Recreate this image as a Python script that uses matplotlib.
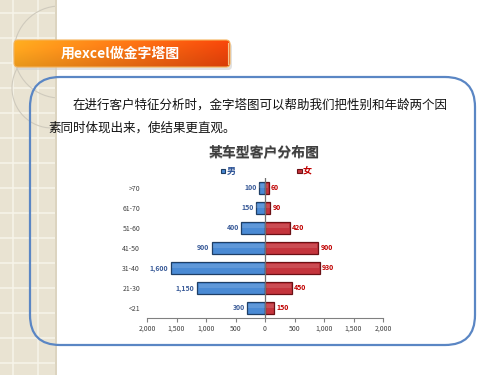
import numpy as np
import matplotlib
matplotlib.use('Agg')
import matplotlib.pyplot as plt
from matplotlib.patches import FancyBboxPatch, Rectangle, Circle
from matplotlib.ticker import FuncFormatter

plt.rcParams['font.family'] = ['Noto Sans CJK SC', 'DejaVu Sans']

# data
ages = ['>70', '61-70', '51-60', '41-50', '31-40', '21-30', '<21']
male = [100, 150, 400, 900, 1600, 1150, 300]
female = [60, 90, 420, 900, 930, 450, 150]
xticks = [-2000, -1500, -1000, -500, 0, 500, 1000, 1500, 2000]

banner_text = '用excel做金字塔图'
para1 = '在进行客户特征分析时，金字塔图可以帮助我们把性别和年龄两个因'
para2 = '素同时体现出来，使结果更直观。'
chart_title = '某车型客户分布图'

fig = plt.figure(figsize=(5, 3.75), dpi=100)
fig.patch.set_facecolor('white')

# background layer in pixel coordinates
bg = fig.add_axes([0, 0, 1, 1])
bg.set_xlim(0, 500)
bg.set_ylim(375, 0)
bg.axis('off')

# beige strip on the left
strip = Rectangle((0, 0), 55, 375, fc='#e9e3d2', ec='none', zorder=0)
bg.add_patch(strip)
for gx in [13, 38]:
    bg.plot([gx, gx], [0, 375], color='#f7f4ea', lw=1.1, zorder=1)
for gy in np.arange(12.5, 375, 25):
    bg.plot([0, 55], [gy, gy], color='#f7f4ea', lw=1.1, zorder=1)
bg.plot([55.5, 55.5], [0, 375], color='#d5ccb4', lw=1.2, zorder=1)
for cx, cy, r in [(60, 52, 46), (52, 88, 40)]:
    c = Circle((cx, cy), r, fc='none', ec='#cfcabd', lw=0.8, zorder=1)
    bg.add_patch(c)
    c.set_clip_path(strip)

# orange banner with shadow
bg.add_patch(FancyBboxPatch((16, 43), 216, 27, boxstyle='round,pad=0,rounding_size=4',
                            fc='#cfcfcf', ec='none', alpha=0.6, zorder=2))
banner = FancyBboxPatch((14, 40), 216, 27, boxstyle='round,pad=0,rounding_size=4',
                        fc='none', ec='#f5b35a', lw=0.8, zorder=4)
bg.add_patch(banner)
w, h = 200, 30
left = np.array([249, 163, 30]) / 255
right = np.array([232, 66, 10]) / 255
t = np.linspace(0, 1, w)[None, :, None]
grad = left * (1 - t) + right * t
shade = np.linspace(1.08, 0.93, h)[:, None, None]
img = np.clip(grad * shade, 0, 1)
im = bg.imshow(img, extent=(14, 230, 67, 40), aspect='auto', zorder=3)
im.set_clip_path(banner)
bg.plot([227.5, 227.5], [43, 64], color='#f7c48a', lw=0.8, zorder=4)
bg.text(120, 53.5, banner_text, color='white', fontsize=10, fontweight='bold',
        ha='center', va='center', zorder=5)

# rounded content box
bg.add_patch(FancyBboxPatch((30, 77), 445, 268, boxstyle='round,pad=0,rounding_size=30',
                            fc='none', ec='#5a86c4', lw=1.6, zorder=2))

bg.text(73, 105, para1, fontsize=9, fontweight='medium', color='#111111',
        ha='left', va='center', zorder=5)
bg.text(48, 128, para2, fontsize=9, fontweight='medium', color='#111111',
        ha='left', va='center', zorder=5)

bg.text(264.5, 153.5, chart_title, fontsize=10, fontweight='black', color='#b0b0b0',
        ha='center', va='center', zorder=5)
bg.text(264, 153, chart_title, fontsize=10, fontweight='black', color='#3f3f3f',
        ha='center', va='center', zorder=5)

# legend
bg.add_patch(Rectangle((220.5, 168.5), 4.5, 4.5, fc='#4a8ad4', ec='#1f3f66', lw=0.8, zorder=5))
bg.text(226.5, 171, '男', fontsize=6.5, fontweight='bold', color='#2f5597',
        ha='left', va='center', zorder=5)
bg.add_patch(Rectangle((297, 168.5), 4.5, 4.5, fc='#c4343c', ec='#6b1015', lw=0.8, zorder=5))
bg.text(303, 171, '女', fontsize=6.5, fontweight='bold', color='#c00000',
        ha='left', va='center', zorder=5)

# pyramid chart
ax = fig.add_axes([147 / 500, 1 - 318 / 375, 236 / 500, 140 / 375])
ax.patch.set_alpha(0)
y = np.arange(len(ages))
m = -np.array(male)
f = np.array(female)

ax.barh(y, m, height=0.6, color='#4a8ad4', edgecolor='#1f3f66', lw=0.9, zorder=2)
ax.barh(y, f, height=0.6, color='#c4343c', edgecolor='#6b1015', lw=0.9, zorder=2)
# light bevel
ax.barh(y - 0.12, m * 0.98, height=0.2, color='white', alpha=0.12, lw=0, zorder=3)
ax.barh(y - 0.12, f * 0.98, height=0.2, color='white', alpha=0.12, lw=0, zorder=3)

for yi, v in zip(y, male):
    ax.text(-v - 45, yi, f'{v:,}', ha='right', va='center', fontsize=5,
            fontweight='bold', color='#3b5c99')
for yi, v in zip(y, female):
    ax.text(v + 40, yi, f'{v:,}', ha='left', va='center', fontsize=5,
            fontweight='bold', color='#c00000')

ax.axvline(0, color='#707070', lw=0.9, zorder=4)
ax.set_xlim(-2000, 2000)
ax.set_ylim(6.5, -0.5)
ax.set_xticks(xticks)
ax.xaxis.set_major_formatter(FuncFormatter(lambda v, p: f'{abs(int(v)):,}'))
ax.set_yticks(y)
ax.set_yticklabels(ages)
ax.tick_params(axis='y', length=0, pad=5, labelsize=5, labelcolor='#404040')
ax.tick_params(axis='x', length=3, width=0.8, color='#808080', labelsize=5,
               labelcolor='#404040', pad=2)
for s in ['left', 'top', 'right']:
    ax.spines[s].set_visible(False)
ax.spines['bottom'].set_color('#808080')
ax.spines['bottom'].set_linewidth(0.8)

fig.savefig('out.png', dpi=100)
